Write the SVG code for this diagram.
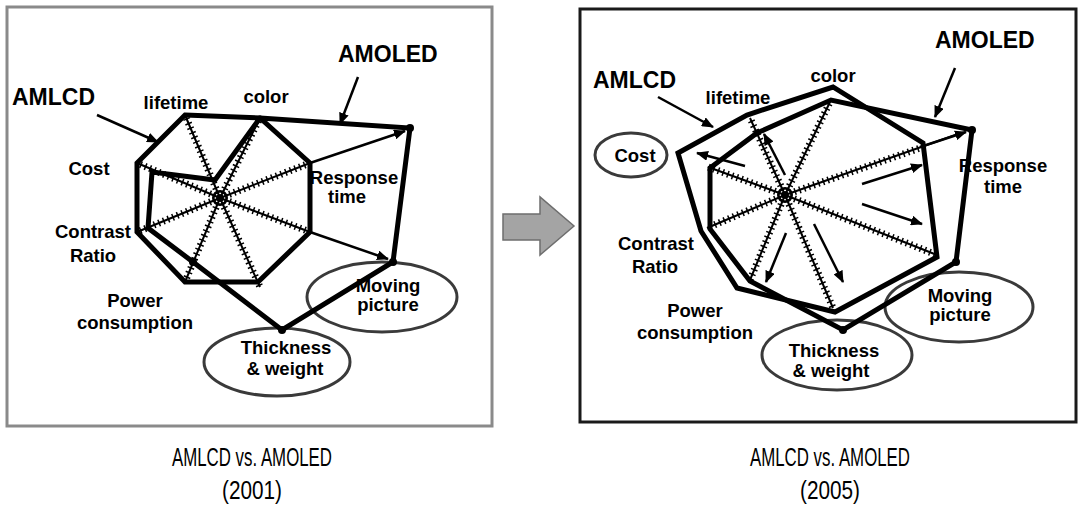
<svg xmlns="http://www.w3.org/2000/svg" width="1079" height="521" viewBox="0 0 1079 521">
  <defs>
    <marker id="head" viewBox="0 0 12 10" refX="11" refY="5" markerWidth="12" markerHeight="10" markerUnits="userSpaceOnUse" orient="auto">
      <path d="M0,0 L12,5 L0,10 z" fill="#000"/>
    </marker>
    <style>
      .lbl { font-family: "Liberation Sans", Arial, sans-serif; font-weight: bold; font-size: 18.5px; fill: #000; text-anchor: middle; }
      .big { font-family: "Liberation Sans", Arial, sans-serif; font-weight: bold; font-size: 23px; fill: #000; }
      .cap { font-family: "Liberation Sans Narrow", "Liberation Sans", Arial, sans-serif; font-size: 26px; fill: #000; text-anchor: middle; }
      .frameL { fill: none; stroke: #8a8a8a; stroke-width: 3; }
      .frameR { fill: none; stroke: #1a1a1a; stroke-width: 3; }
      .oval { fill: none; stroke: #3a3a3a; stroke-width: 3; }
      .poly { fill: none; stroke: #000; stroke-width: 5; stroke-linejoin: miter; }
      .spoke { stroke: #000; stroke-width: 2; }
      .ticks { stroke: #000; stroke-width: 7; stroke-dasharray: 1.5 3.5; }
      .ptr { stroke: #000; stroke-width: 2.5; fill: none; marker-end: url(#head); }
      .dot { fill: #000; }
    </style>
  </defs>
  <rect width="1079" height="521" fill="#fff"/>

  <!-- panel frames -->
  <rect id="frame-2001" class="frameL" x="7" y="7" width="485" height="419"/>
  <rect id="frame-2005" class="frameR" x="580" y="9" width="496" height="413"/>

  <!-- block arrow between panels -->
  <g id="transition">
    <path d="M503,214 L540,214 L540,197 L574,226 L540,255 L540,240 L503,240 z" fill="#a4a4a4" stroke="#6e6e6e" stroke-width="1.5"/>
  </g>

  <!-- ===== 2001 chart ===== -->
  <g id="labels-2001">
    <text class="big" x="12" y="105">AMLCD</text>
    <text class="big" x="338" y="62">AMOLED</text>
    <text class="lbl" x="176" y="109">lifetime</text>
    <text class="lbl" x="266" y="103">color</text>
    <text class="lbl" x="89" y="175">Cost</text>
    <text class="lbl" x="354" y="184">Response</text>
    <text class="lbl" x="347" y="203">time</text>
    <text class="lbl" x="93" y="238">Contrast</text>
    <text class="lbl" x="93" y="262">Ratio</text>
    <text class="lbl" x="135" y="307">Power</text>
    <text class="lbl" x="135" y="329">consumption</text>
  </g>
  <g id="moving-2001">
    <ellipse class="oval" cx="382" cy="297" rx="75" ry="35"/>
    <text class="lbl" x="388" y="292">Moving</text>
    <text class="lbl" x="388" y="311">picture</text>
  </g>
  <g id="thickness-2001">
    <ellipse class="oval" cx="277" cy="362" rx="73" ry="34"/>
    <text class="lbl" x="286" y="354">Thickness</text>
    <text class="lbl" x="285" y="375">&amp; weight</text>
  </g>

  <g id="connectors-2001">
    <!-- scale spokes -->
    <g id="spokes-2001">
      <path class="spoke" d="M220,198 L185,115 M220,198 L260,118 M220,198 L310,163 M220,198 L310,232 M220,198 L260,287 M220,198 L185,282 M220,198 L137,232 M220,198 L137,163"/>
      <path class="ticks" d="M220,198 L185,115 M220,198 L260,118 M220,198 L310,163 M220,198 L310,232 M220,198 L260,287 M220,198 L185,282 M220,198 L137,232 M220,198 L137,163"/>
      <circle cx="220" cy="198" r="7" fill="none" stroke="#000" stroke-width="2"/>
      <circle cx="220" cy="198" r="3" fill="none" stroke="#000" stroke-width="1.5"/>
    </g>
    <!-- AMLCD -->
    <polygon id="amlcd-2001" class="poly" points="185,115 260,118 310,163 310,232 258,282 185,282 137,232 137,163"/>
    <!-- AMOLED -->
    <polygon id="amoled-2001" class="poly" points="260,118 410,128 393,262 282,330 193,262 148,228 152,172 215,180"/>
    <circle class="dot" cx="410" cy="128" r="4"/>
    <circle class="dot" cx="393" cy="262" r="4"/>
    <circle class="dot" cx="282" cy="330" r="4"/>
    <circle class="dot" cx="193" cy="262" r="4"/>
    <!-- gap arrows -->
    <line class="ptr" x1="310" y1="163" x2="405" y2="131"/>
    <line class="ptr" x1="310" y1="232" x2="388" y2="259"/>
    <!-- name pointers -->
    <line class="ptr" x1="97" y1="115" x2="158" y2="142"/>
    <line class="ptr" x1="358" y1="77" x2="340" y2="124"/>
  </g>

  <!-- ===== 2005 chart ===== -->
  <g id="labels-2005">
    <text class="big" x="593" y="88">AMLCD</text>
    <text class="big" x="935" y="48">AMOLED</text>
    <text class="lbl" x="738" y="104">lifetime</text>
    <text class="lbl" x="833" y="82">color</text>
    <text class="lbl" x="1003" y="172">Response</text>
    <text class="lbl" x="1003" y="193">time</text>
    <text class="lbl" x="656" y="250">Contrast</text>
    <text class="lbl" x="655" y="273">Ratio</text>
    <text class="lbl" x="695" y="317">Power</text>
    <text class="lbl" x="695" y="339">consumption</text>
  </g>
  <g id="cost-2005">
    <ellipse class="oval" cx="631" cy="155" rx="36" ry="22"/>
    <text class="lbl" x="635" y="162">Cost</text>
  </g>
  <g id="moving-2005">
    <ellipse class="oval" cx="959" cy="307" rx="74" ry="35"/>
    <text class="lbl" x="960" y="302">Moving</text>
    <text class="lbl" x="960" y="321">picture</text>
  </g>
  <g id="thickness-2005">
    <ellipse class="oval" cx="837" cy="355" rx="75" ry="35"/>
    <text class="lbl" x="834" y="357">Thickness</text>
    <text class="lbl" x="831" y="377">&amp; weight</text>
  </g>

  <g id="connectors-2005">
    <g id="spokes-2005">
      <path class="spoke" d="M785,195 L708,167 M785,195 L750,118 M785,195 L830,102 M785,195 L958,134 M785,195 L937,255 M785,195 L833,308 M785,195 L750,280 M785,195 L707,228"/>
      <path class="ticks" d="M785,195 L708,167 M785,195 L750,118 M785,195 L830,102 M785,195 L923,147 M785,195 L937,255 M785,195 L833,308 M785,195 L750,280 M785,195 L707,228"/>
      <line class="ptr" x1="920" y1="147" x2="966" y2="132"/>
      <circle cx="785" cy="195" r="7" fill="none" stroke="#000" stroke-width="2"/>
      <circle cx="785" cy="195" r="3" fill="none" stroke="#000" stroke-width="1.5"/>
    </g>
    <!-- AMLCD -->
    <polygon id="amlcd-2005" class="poly" points="678,153 747,115 833,87 923,143 937,257 835,312 737,288 701,231"/>
    <!-- AMOLED -->
    <polygon id="amoled-2005" class="poly" points="710,168 757,133 831,100 972,130 956,262 843,330 750,281 710,229"/>
    <circle class="dot" cx="972" cy="130" r="4"/>
    <circle class="dot" cx="956" cy="262" r="4"/>
    <circle class="dot" cx="843" cy="330" r="4"/>
    <!-- trend arrows -->
    <line class="ptr" x1="745" y1="166" x2="697" y2="153"/>
    <line class="ptr" x1="785" y1="175" x2="764" y2="134"/>
    <line class="ptr" x1="862" y1="184" x2="922" y2="165"/>
    <line class="ptr" x1="862" y1="204" x2="922" y2="224"/>
    <line class="ptr" x1="814" y1="224" x2="843" y2="282"/>
    <line class="ptr" x1="786" y1="233" x2="766" y2="282"/>
    <!-- name pointers -->
    <line class="ptr" x1="658" y1="97" x2="713" y2="127"/>
    <line class="ptr" x1="955" y1="68" x2="935" y2="117"/>
  </g>

  <!-- captions -->
  <g id="caption-2001">
    <text class="cap" x="252" y="466" textLength="160" lengthAdjust="spacingAndGlyphs">AMLCD vs. AMOLED</text>
    <text class="cap" x="252" y="499" textLength="60" lengthAdjust="spacingAndGlyphs">(2001)</text>
  </g>
  <g id="caption-2005">
    <text class="cap" x="830" y="466" textLength="160" lengthAdjust="spacingAndGlyphs">AMLCD vs. AMOLED</text>
    <text class="cap" x="830" y="499" textLength="60" lengthAdjust="spacingAndGlyphs">(2005)</text>
  </g>
</svg>
